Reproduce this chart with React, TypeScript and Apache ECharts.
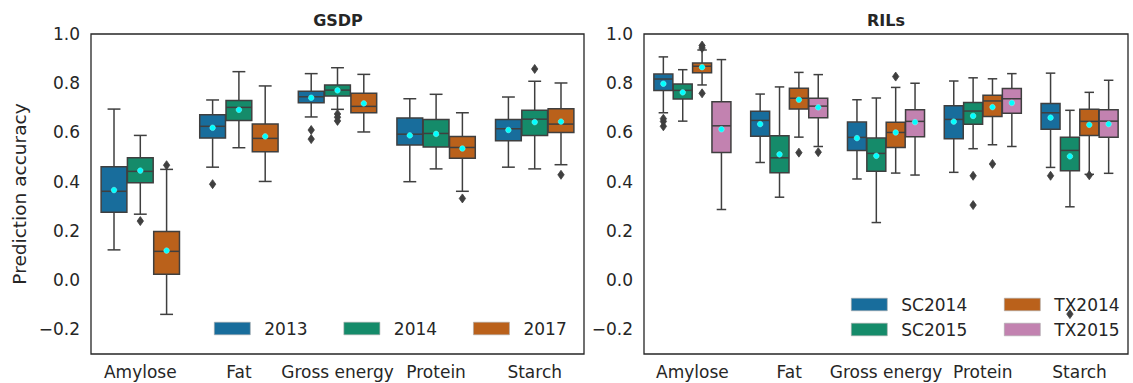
import React, { useEffect, useRef } from "react";
import * as echarts from "echarts";

// ---------- data ----------
const categories = ["Amylose", "Fat", "Gross energy", "Protein", "Starch"];

const gsdpNames = ["2013", "2014", "2017"];
const rilNames = ["SC2014", "SC2015", "TX2014", "TX2015"];

// [min whisker, Q1, median, Q3, max whisker] per category
const gsdp2013Box = [[0.123, 0.276, 0.361, 0.461, 0.695], [0.459, 0.577, 0.625, 0.672, 0.732], [0.663, 0.721, 0.745, 0.767, 0.839], [0.400, 0.549, 0.593, 0.659, 0.737], [0.459, 0.566, 0.615, 0.653, 0.744]];
const gsdp2013Mean = [0.366, 0.619, 0.741, 0.588, 0.610];
const gsdp2013Outliers = [[1, 0.390], [2, 0.610], [2, 0.573]];

const gsdp2014Box = [[0.268, 0.396, 0.442, 0.497, 0.588], [0.538, 0.649, 0.702, 0.730, 0.847], [0.694, 0.748, 0.772, 0.793, 0.863], [0.452, 0.541, 0.596, 0.653, 0.755], [0.452, 0.588, 0.654, 0.690, 0.808]];
const gsdp2014Mean = [0.445, 0.692, 0.771, 0.594, 0.642];
const gsdp2014Outliers = [[0, 0.240], [2, 0.675], [2, 0.662], [2, 0.647], [4, 0.858]];

const gsdp2017Box = [[-0.139, 0.024, 0.117, 0.198, 0.450], [0.401, 0.522, 0.576, 0.634, 0.789], [0.602, 0.680, 0.706, 0.759, 0.836], [0.361, 0.495, 0.539, 0.584, 0.680], [0.469, 0.600, 0.634, 0.696, 0.801]];
const gsdp2017Mean = [0.120, 0.584, 0.718, 0.535, 0.644];
const gsdp2017Outliers = [[0, 0.467], [3, 0.332], [4, 0.428]];

const sc2014Box = [[0.680, 0.770, 0.817, 0.837, 0.907], [0.478, 0.585, 0.649, 0.686, 0.756], [0.411, 0.527, 0.580, 0.642, 0.733], [0.438, 0.574, 0.653, 0.709, 0.809], [0.458, 0.613, 0.680, 0.718, 0.841]];
const sc2014Mean = [0.798, 0.634, 0.577, 0.644, 0.660];
const sc2014Outliers = [[0, 0.656], [0, 0.645], [0, 0.625], [4, 0.424]];

const sc2015Box = [[0.646, 0.736, 0.771, 0.797, 0.855], [0.337, 0.436, 0.497, 0.587, 0.785], [0.234, 0.442, 0.515, 0.577, 0.740], [0.534, 0.633, 0.687, 0.722, 0.822], [0.298, 0.444, 0.527, 0.581, 0.690]];
const sc2015Mean = [0.763, 0.511, 0.505, 0.667, 0.503];
const sc2015Outliers = [[3, 0.424], [3, 0.305], [4, -0.138]];

const tx2014Box = [[0.793, 0.843, 0.869, 0.882, 0.935], [0.581, 0.695, 0.739, 0.780, 0.844], [0.435, 0.539, 0.600, 0.641, 0.783], [0.550, 0.665, 0.728, 0.751, 0.818], [0.430, 0.588, 0.645, 0.694, 0.763]];
const tx2014Mean = [0.865, 0.733, 0.600, 0.703, 0.631];
const tx2014Outliers = [[0, 0.953], [0, 0.943], [0, 0.759], [1, 0.518], [2, 0.827], [3, 0.472], [4, 0.426]];

const tx2015Box = [[0.287, 0.519, 0.627, 0.725, 0.896], [0.543, 0.660, 0.707, 0.739, 0.835], [0.427, 0.583, 0.645, 0.692, 0.800], [0.543, 0.678, 0.737, 0.779, 0.839], [0.434, 0.581, 0.646, 0.692, 0.812]];
const tx2015Mean = [0.613, 0.702, 0.642, 0.720, 0.634];
const tx2015Outliers = [[1, 0.520]];

// ---------- styling ----------
const FONT = "DejaVu Sans";
const TEXT = "#262626";
const LINE = "#3f3f3f";
const COLORS = ["#186d9c", "#158b6a", "#ba611b", "#c282b0"];

function boxSeries(name: string, color: string, boxes: number[][], means: number[], g: number, idx: number, n: number) {
  return {
    type: "custom",
    name,
    xAxisIndex: g,
    yAxisIndex: g,
    itemStyle: { color },
    encode: { x: 0, y: [1, 2, 3, 4, 5, 6] },
    data: boxes.map((b, i) => [i, ...b, means[i]]),
    z: 2,
    renderItem: (params: any, api: any) => {
      const ci = api.value(0);
      const band = api.size([1, 0])[0];
      const c = api.coord([ci, 0])[0];
      const w = (band * 0.8) / n;
      const cx = c - band * 0.4 + w * (idx + 0.5);
      const bw = w * 0.98;
      const y = (k: number) => api.coord([ci, api.value(k)])[1];
      const yMin = y(1), yQ1 = y(2), yMed = y(3), yQ3 = y(4), yMax = y(5), yMean = y(6);
      const cap = bw / 4;
      const ls = { stroke: LINE, lineWidth: 1.5 };
      return {
        type: "group",
        children: [
          { type: "line", shape: { x1: cx, y1: yMax, x2: cx, y2: yQ3 }, style: ls },
          { type: "line", shape: { x1: cx, y1: yQ1, x2: cx, y2: yMin }, style: ls },
          { type: "line", shape: { x1: cx - cap, y1: yMax, x2: cx + cap, y2: yMax }, style: ls },
          { type: "line", shape: { x1: cx - cap, y1: yMin, x2: cx + cap, y2: yMin }, style: ls },
          { type: "rect", shape: { x: cx - bw / 2, y: yQ3, width: bw, height: yQ1 - yQ3 }, style: { fill: color, stroke: LINE, lineWidth: 1.5 } },
          { type: "line", shape: { x1: cx - bw / 2, y1: yMed, x2: cx + bw / 2, y2: yMed }, style: ls },
          { type: "circle", shape: { cx, cy: yMean, r: 2.8 }, style: { fill: "#00ffff", stroke: "#7fffff", lineWidth: 0.5 } },
        ],
      };
    },
  };
}

function outlierSeries(name: string, pts: number[][], g: number, idx: number, n: number) {
  return {
    type: "custom",
    name,
    xAxisIndex: g,
    yAxisIndex: g,
    encode: { x: 0, y: 1 },
    data: pts,
    z: 3,
    renderItem: (params: any, api: any) => {
      const ci = api.value(0);
      const band = api.size([1, 0])[0];
      const p = api.coord([ci, api.value(1)]);
      const w = (band * 0.8) / n;
      const cx = p[0] - band * 0.4 + w * (idx + 0.5);
      const cy = p[1];
      return {
        type: "polygon",
        shape: { points: [[cx, cy - 4.5], [cx + 3.2, cy], [cx, cy + 4.5], [cx - 3.2, cy]] },
        style: { fill: LINE, stroke: LINE, lineWidth: 0.8 },
      };
    },
  };
}

function fmtTick(v: number) {
  const r = Math.round(v * 10);
  if (r % 2 !== 0) return "";
  const s = (r / 10).toFixed(1);
  return s.startsWith("-") ? "\u2212" + s.slice(1) : s;
}

const gridTop = 34;
const gridHeight = 320;

function xAxis(g: number) {
  return {
    type: "category",
    gridIndex: g,
    data: categories,
    boundaryGap: true,
    axisLine: { show: false },
    axisTick: { show: false },
    splitLine: { show: false },
    axisLabel: { color: TEXT, fontFamily: FONT, fontSize: 17, margin: 9, interval: 0 },
  };
}

function yAxis(g: number, withName: boolean) {
  return {
    type: "value",
    gridIndex: g,
    min: -0.3,
    max: 1.0,
    interval: 0.1,
    axisLine: { show: false },
    axisTick: { show: false },
    splitLine: { show: false },
    axisLabel: { color: TEXT, fontFamily: FONT, fontSize: 17, margin: 11, formatter: fmtTick },
    name: withName ? "Prediction accuracy" : "",
    nameLocation: "middle",
    nameGap: 62,
    nameTextStyle: { color: TEXT, fontFamily: FONT, fontSize: 18.5 },
  };
}

export default function App() {
  const ref = useRef<HTMLDivElement>(null);
  useEffect(() => {
    if (!ref.current) return;
    const chart = echarts.init(ref.current, undefined, { renderer: "svg" });
    const gsdpBoxes = [gsdp2013Box, gsdp2014Box, gsdp2017Box];
    const gsdpMeans = [gsdp2013Mean, gsdp2014Mean, gsdp2017Mean];
    const gsdpOut = [gsdp2013Outliers, gsdp2014Outliers, gsdp2017Outliers];
    const rilBoxes = [sc2014Box, sc2015Box, tx2014Box, tx2015Box];
    const rilMeans = [sc2014Mean, sc2015Mean, tx2014Mean, tx2015Mean];
    const rilOut = [sc2014Outliers, sc2015Outliers, tx2014Outliers, tx2015Outliers];

    const series: any[] = [];
    gsdpNames.forEach((nm, i) => {
      series.push(boxSeries(nm, COLORS[i], gsdpBoxes[i], gsdpMeans[i], 0, i, 3));
      series.push(outlierSeries("out-" + nm, gsdpOut[i], 0, i, 3));
    });
    rilNames.forEach((nm, i) => {
      series.push(boxSeries(nm, COLORS[i], rilBoxes[i], rilMeans[i], 1, i, 4));
      series.push(outlierSeries("out-" + nm, rilOut[i], 1, i, 4));
    });

    const legendText = { color: TEXT, fontFamily: FONT, fontSize: 17, padding: [0, 0, 0, 9] };
    const legendBase = {
      icon: "rect",
      itemWidth: 36,
      itemHeight: 12.6,
      selectedMode: false,
      textStyle: legendText,
      itemStyle: { borderColor: "#aaaaaa", borderWidth: 0.6 },
      padding: 0,
    };

    chart.setOption({
      animation: false,
      backgroundColor: "#ffffff",
      grid: [
        { left: 91, top: gridTop, width: 493, height: gridHeight, show: true, borderColor: TEXT, borderWidth: 1.3, backgroundColor: "transparent" },
        { left: 644, top: gridTop, width: 484, height: gridHeight, show: true, borderColor: TEXT, borderWidth: 1.3, backgroundColor: "transparent" },
      ],
      xAxis: [xAxis(0), xAxis(1)],
      yAxis: [yAxis(0, true), yAxis(1, false)],
      legend: [
        { ...legendBase, orient: "horizontal", left: 214, top: 320, itemGap: 36, data: gsdpNames },
        { ...legendBase, orient: "vertical", left: 851, top: 296, itemGap: 8, data: rilNames.slice(0, 2) },
        { ...legendBase, orient: "vertical", left: 1004, top: 296, itemGap: 8, data: rilNames.slice(2, 4) },
      ],
      graphic: [
        { type: "text", x: 338, y: 20, style: { text: "GSDP", textAlign: "center", textVerticalAlign: "middle", font: "bold 16px 'DejaVu Sans'", fill: TEXT } },
        { type: "text", x: 886, y: 20, style: { text: "RILs", textAlign: "center", textVerticalAlign: "middle", font: "bold 16px 'DejaVu Sans'", fill: TEXT } },
      ],
      series,
    });
    return () => chart.dispose();
  }, []);
  return <div ref={ref} style={{ position: "fixed", left: 0, top: 0, width: 1133, height: 383 }} />;
}
